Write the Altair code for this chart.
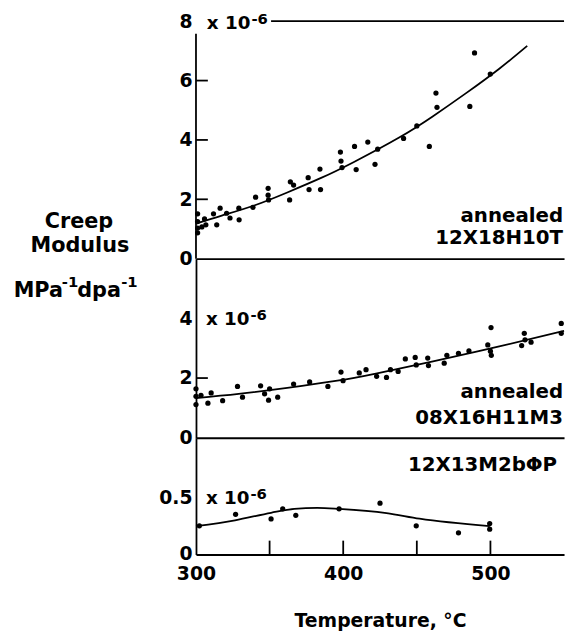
import altair as alt
import pandas as pd

# ---------------- data ----------------
# Top panel: annealed 12X18H10T  (creep modulus, x 10^-6 MPa^-1 dpa^-1)
top_temp = [301.1, 301.1, 301.1, 301.1, 304.0, 305.8, 306.7, 311.9, 314.1, 316.4,
            320.8, 323.1, 329.1, 329.3, 338.7, 340.5, 349.0, 349.0, 349.3, 363.6,
            364.1, 366.3, 376.2, 376.8, 384.2, 384.6, 398.1, 398.5, 399.2, 407.7,
            408.8, 416.7, 421.6, 423.4, 441.0, 450.0, 458.5, 463.0, 463.7, 486.0,
            489.2, 499.9]
top_mod = [1.51, 1.25, 1.03, 0.87, 1.07, 1.34, 1.14, 1.51, 1.14, 1.70,
           1.53, 1.37, 1.70, 1.31, 1.73, 2.07, 2.37, 2.14, 1.98, 1.98,
           2.59, 2.48, 2.73, 2.33, 3.02, 2.33, 3.59, 3.29, 3.07, 3.78,
           3.00, 3.93, 3.18, 3.69, 4.05, 4.47, 3.78, 5.58, 5.10, 5.13,
           6.93, 6.22]
top_fit_temp = [300, 317.5, 340, 362, 385, 407, 438, 461, 483, 506, 525]
top_fit_mod = [1.18, 1.45, 1.80, 2.23, 2.72, 3.25, 4.08, 4.80, 5.56, 6.40, 7.17]

# Middle panel: annealed 08X16H11M3
mid_temp = [300.0, 300.0, 300.0, 303.4, 308.1, 310.3, 318.1, 328.2, 331.6, 343.9,
            346.6, 350.0, 349.3, 355.5, 366.3, 377.2, 389.6, 398.5, 399.9, 410.9,
            415.5, 422.7, 429.4, 432.1, 437.3, 442.2, 448.9, 449.6, 457.4, 457.9,
            468.6, 470.4, 478.3, 485.4, 498.2, 500.4, 500.6, 500.0, 521.2, 523.0,
            523.5, 527.6, 548.1, 548.1]
mid_mod = [1.64, 1.39, 1.11, 1.42, 1.16, 1.50, 1.24, 1.72, 1.36, 1.74,
           1.47, 1.64, 1.26, 1.36, 1.80, 1.87, 1.72, 2.20, 1.91, 2.17,
           2.28, 2.06, 2.02, 2.28, 2.22, 2.64, 2.69, 2.44, 2.67, 2.42,
           2.50, 2.76, 2.83, 2.91, 3.11, 3.69, 2.76, 2.90, 3.09, 3.50,
           3.28, 3.20, 3.83, 3.50]
mid_fit_temp = [300, 329, 362, 396, 423, 461, 506, 550]
mid_fit_mod = [1.33, 1.47, 1.67, 1.91, 2.16, 2.56, 3.06, 3.58]

# Bottom panel: 12X13M2bΦP
bot_temp = [302.3, 326.9, 351.0, 358.9, 367.8, 397.2, 425.0, 449.6, 478.3, 499.5, 499.5]
bot_mod = [0.258, 0.361, 0.320, 0.411, 0.352, 0.411, 0.462, 0.258, 0.195, 0.278, 0.228]
bot_fit_temp = [300, 326.5, 351, 366.8, 382.4, 397.2, 429.4, 451.8, 499.5]
bot_fit_mod = [0.255, 0.308, 0.375, 0.41, 0.42, 0.411, 0.373, 0.322, 0.255]

# axes
x_domain = [300, 550]
x_label_values = [300, 400, 500]
x_inner_ticks = [350, 400, 450, 500]
top_y_domain = [0, 8]
mid_y_domain = [0, 6]
bot_y_domain = [0, 1.05]
top_y_labels = [0, 2, 4, 6, 8]
mid_y_labels = [0, 2, 4]
bot_y_labels = [0, 0.5]
top_inner_ticks = [2, 4, 6]
mid_inner_ticks = [2]

# ---------------- styling ----------------
FONT = "DejaVu Sans"
W = 372
H_TOP, H_MID, H_BOT = 240, 181, 118
LW = 1.8
TICK_FS = 19

x_scale = alt.Scale(domain=x_domain, nice=False, zero=False)


def x_hidden():
    return alt.Axis(labels=False, ticks=False, title=None, grid=False, domain=True,
                    domainColor="black", domainWidth=LW)


def x_bottom():
    return alt.Axis(values=x_label_values, ticks=False, tickSize=0, labelPadding=10,
                    labelFont=FONT, labelFontSize=TICK_FS, labelFontWeight="bold",
                    labelColor="black",
                    labelFlush=False, labelOverlap=False, grid=False,
                    domain=True, domainColor="black", domainWidth=LW,
                    title="Temperature, °C", titleFont=FONT, titleFontSize=19,
                    titleFontWeight="bold", titleColor="black", titlePadding=29)


def y_axis(vals, show_domain=True, offset=0):
    return alt.Axis(values=vals, format="~g", ticks=False, tickSize=0, labelPadding=4,
                    labelFont=FONT, labelFontSize=TICK_FS, labelFontWeight="bold",
                    labelColor="black", labelOffset=offset,
                    labelFlush=False, labelOverlap=False, grid=False, title=None,
                    domain=show_domain, domainColor="black", domainWidth=LW)


def enc(ydom, yvals, xaxis, show_domain=True, offset=0):
    X = alt.X("t:Q", scale=x_scale, axis=xaxis)
    Y = alt.Y("v:Q", scale=alt.Scale(domain=ydom, nice=False, zero=True),
              axis=y_axis(yvals, show_domain, offset))
    return X, Y


def points(t, v, X, Y):
    return alt.Chart(pd.DataFrame({"t": t, "v": v})).mark_circle(
        size=28, color="black", opacity=1).encode(x=X, y=Y)


def fit(t, v, X, Y, interp="natural"):
    return alt.Chart(pd.DataFrame({"t": t, "v": v})).mark_line(
        color="black", strokeWidth=LW, interpolate=interp).encode(x=X, y=Y)


def y_ticks(vals, Y):
    return alt.Chart(pd.DataFrame({"v": vals})).mark_rule(
        color="black", strokeWidth=LW).encode(y=Y, x=alt.value(0), x2=alt.value(12))


def data_text(t, v, s, X, Y, align="left", size=20, dx=0, dy=0):
    return alt.Chart(pd.DataFrame({"t": [t], "v": [v], "s": [s]})).mark_text(
        align=align, baseline="alphabetic", font=FONT, fontSize=size, fontWeight="bold",
        color="black", dx=dx, dy=dy).encode(x=X, y=Y, text="s:N")


def px_text(s, x, y, align="left", size=21):
    return alt.Chart(pd.DataFrame({"s": [s]})).mark_text(
        align=align, baseline="alphabetic", font=FONT, fontSize=size,
        fontWeight="bold", color="black").encode(
        x=alt.value(x), y=alt.value(y), text="s:N")


def times_ten(t, v, X, Y, dx, dy):
    return [data_text(t, v, "x 10", X, Y, size=18.5, dx=dx, dy=dy),
            data_text(t, v, "-6", X, Y, size=15, dx=dx + 45, dy=dy - 5)]


# ---------------- top panel ----------------
Xt, Yt = enc(top_y_domain, top_y_labels, x_hidden(), show_domain=False)
top_frame_top = alt.Chart(pd.DataFrame({"t": [351], "t2": [550], "v": [8]})).mark_rule(
    color="black", strokeWidth=LW).encode(x=Xt, x2="t2:Q", y=Yt)
top_frame_left = alt.Chart(pd.DataFrame({"t": [300], "v": [0], "v2": [7.58]})).mark_rule(
    color="black", strokeWidth=LW).encode(x=Xt, y=Yt, y2="v2:Q")
top_layers = [
    top_frame_top, top_frame_left, y_ticks(top_inner_ticks, Yt),
    fit(top_fit_temp, top_fit_mod, Xt, Yt),
    points(top_temp, top_mod, Xt, Yt),
    data_text(550, 1.25, "annealed", Xt, Yt, align="right", dx=-1),
    data_text(550, 0.48, "12X18H10T", Xt, Yt, align="right", dx=-1),
] + times_ten(300, 8, Xt, Yt, 11, 7.4) + [
    px_text("Creep", -118.3, 208.7, align="center"),
    px_text("Modulus", -117.3, 233.7, align="center"),
    px_text("MPa", -184.3, 278.7),
    px_text("-1", -135.6, 269.0, size=15),
    px_text("dpa", -120.0, 278.7),
    px_text("-1", -75.6, 269.0, size=15),
]
top = alt.layer(*top_layers).properties(width=W, height=H_TOP)

# ---------------- middle panel ----------------
Xm, Ym = enc(mid_y_domain, mid_y_labels, x_hidden())
mid_layers = [
    y_ticks(mid_inner_ticks, Ym),
    fit(mid_fit_temp, mid_fit_mod, Xm, Ym),
    points(mid_temp, mid_mod, Xm, Ym),
    data_text(550, 1.33, "annealed", Xm, Ym, align="right", dx=-1),
    data_text(550, 0.47, "08X16H11M3", Xm, Ym, align="right", dx=-1),
] + times_ten(300, 4, Xm, Ym, 10, 6.7)
mid = alt.layer(*mid_layers).properties(width=W, height=H_MID)

# ---------------- bottom panel ----------------
Xb, Yb = enc(bot_y_domain, bot_y_labels, x_bottom(), offset=-1)
bot_xticks = alt.Chart(pd.DataFrame({"t": x_inner_ticks})).mark_rule(
    color="black", strokeWidth=LW).encode(x=Xb, y=alt.value(H_BOT), y2=alt.value(H_BOT - 14))
bot_layers = [
    bot_xticks,
    fit(bot_fit_temp, bot_fit_mod, Xb, Yb, interp="monotone"),
    points(bot_temp, bot_mod, Xb, Yb),
    data_text(550, 0.755, "12X13M2bΦP", Xb, Yb, align="right", dx=-7),
] + times_ten(300, 0.5, Xb, Yb, 10, 5)
bot = alt.layer(*bot_layers).properties(width=W, height=H_BOT)

chart = alt.vconcat(top, mid, bot, spacing=0, bounds="flush").resolve_scale(
    x="independent", y="independent"
).properties(
    padding={"left": 5, "top": 0, "right": 0, "bottom": 0},
    background="white",
).configure_view(stroke=None)

chart.save("out.html", embed_options={"renderer": "svg", "actions": False})
